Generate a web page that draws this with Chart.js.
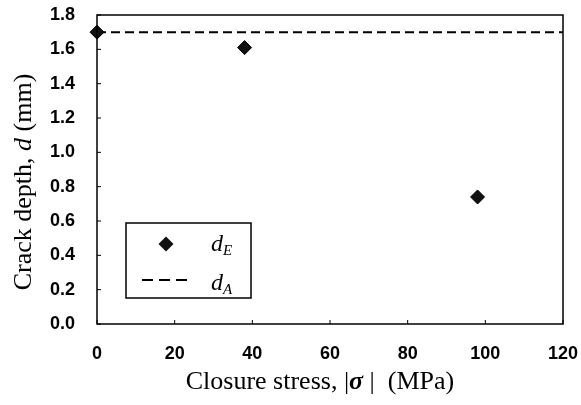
<!DOCTYPE html>
<html><head><meta charset="utf-8">
<script src="https://cdn.jsdelivr.net/npm/chart.js@4"></script>
<style>html,body{margin:0;padding:0;background:#fff}#w{width:581px;height:405px}</style>
</head><body><div id="w"><canvas id="c"></canvas></div>
<script>
const stressE = [0, 38, 98];
const depthE = [1.70, 1.61, 0.74];
const stressA = [0, 120];
const depthA = [1.70, 1.70];
const xTicks = [0, 20, 40, 60, 80, 100, 120];
const yTicks = [0.0, 0.2, 0.4, 0.6, 0.8, 1.0, 1.2, 1.4, 1.6, 1.8];

const tickFont = {family: 'Liberation Sans, Arial', size: 18, weight: 'bold'};
const serif = 'Liberation Serif, Times New Roman, serif';

function drawMixed(ctx, parts, x, y) {
  let total = 0;
  parts.forEach(p => { ctx.font = p.f; p.w = ctx.measureText(p.t).width; total += p.w; });
  let cx = x - total / 2;
  parts.forEach(p => { ctx.font = p.f; ctx.fillText(p.t, cx, y + (p.dy || 0)); cx += p.w; });
}

const decor = {
  id: 'decor',
  afterDatasetsDraw(chart) {
    const ctx = chart.ctx, a = chart.chartArea;
    const xs = chart.scales.x, ys = chart.scales.y;
    ctx.save();
    ctx.strokeStyle = '#000';
    ctx.lineWidth = 1.5;
    ctx.strokeRect(a.left, a.top, a.right - a.left, a.bottom - a.top);
    ctx.lineWidth = 1;
    xTicks.forEach(v => { const px = xs.getPixelForValue(v); ctx.beginPath(); ctx.moveTo(px, a.bottom); ctx.lineTo(px, a.bottom - 4); ctx.stroke(); });
    yTicks.forEach(v => { const py = ys.getPixelForValue(v); ctx.beginPath(); ctx.moveTo(a.left, py); ctx.lineTo(a.left + 4, py); ctx.stroke(); });

    // legend box
    const lx = a.left + 29, ly = a.top + 208, lw = 125, lh = 75;
    ctx.fillStyle = '#fff';
    ctx.fillRect(lx, ly, lw, lh);
    ctx.lineWidth = 1.5;
    ctx.strokeRect(lx, ly, lw, lh);
    ctx.fillStyle = '#111';
    const dx = lx + 40, dy = ly + 21, r = 7.5;
    ctx.beginPath(); ctx.moveTo(dx, dy - r); ctx.lineTo(dx + r, dy); ctx.lineTo(dx, dy + r); ctx.lineTo(dx - r, dy); ctx.closePath(); ctx.fill();
    ctx.strokeStyle = '#000'; ctx.lineWidth = 2.2; ctx.setLineDash([11, 6]);
    ctx.beginPath(); ctx.moveTo(lx + 16, ly + 57); ctx.lineTo(lx + 66, ly + 57); ctx.stroke();
    ctx.setLineDash([]);
    ctx.fillStyle = '#000';
    ctx.textBaseline = 'alphabetic';
    ctx.textAlign = 'left';
    ctx.font = 'italic 24px ' + serif; ctx.fillText('d', lx + 85, ly + 28);
    ctx.font = 'italic 15px ' + serif; ctx.fillText('E', lx + 97, ly + 32);
    ctx.font = 'italic 24px ' + serif; ctx.fillText('d', lx + 85, ly + 67);
    ctx.font = 'italic 15px ' + serif; ctx.fillText('A', lx + 97, ly + 71);

    // axis titles
    drawMixed(ctx, [
      {t: 'Closure stress, |', f: '26px ' + serif},
      {t: 'σ', f: 'italic bold 26px ' + serif},
      {t: ' |  (MPa)', f: '26px ' + serif}
    ], 320, 389);
    ctx.translate(31, 182);
    ctx.rotate(-Math.PI / 2);
    drawMixed(ctx, [
      {t: 'Crack depth, ', f: '26px ' + serif},
      {t: 'd', f: 'italic 26px ' + serif},
      {t: ' (mm)', f: '26px ' + serif}
    ], 0, 0);
    ctx.restore();
  }
};

new Chart(document.getElementById('c'), {
  type: 'scatter',
  data: {
    datasets: [
      {
        label: 'dE',
        data: stressE.map((x, i) => ({x, y: depthE[i]})),
        pointStyle: 'rectRot', pointRadius: 7, pointHoverRadius: 7,
        backgroundColor: '#111', borderColor: '#000', borderWidth: 1,
        clip: false
      },
      {
        label: 'dA',
        type: 'line',
        data: stressA.map((x, i) => ({x, y: depthA[i]})),
        borderColor: '#000', borderWidth: 2, borderDash: [9, 5],
        pointRadius: 0, fill: false, showLine: true
      }
    ]
  },
  options: {
    responsive: true, maintainAspectRatio: false, animation: false,
    layout: {padding: {top: 15, right: 18, left: 0, bottom: 0}},
    plugins: {legend: {display: false}, tooltip: {enabled: false}},
    scales: {
      x: {
        type: 'linear', min: 0, max: 120,
        afterBuildTicks: s => { s.ticks = xTicks.map(v => ({value: v})); },
        afterFit: s => { s.height = 81; s.paddingLeft = 0; s.paddingRight = 0; },
        grid: {display: false, drawTicks: false},
        border: {display: false},
        ticks: {font: tickFont, color: '#000', padding: 19}
      },
      y: {
        type: 'linear', min: 0, max: 1.8,
        afterBuildTicks: s => { s.ticks = yTicks.map(v => ({value: v})); },
        afterFit: s => { s.width = 97; s.paddingTop = 0; s.paddingBottom = 0; },
        grid: {display: false, drawTicks: false},
        border: {display: false},
        ticks: {font: tickFont, color: '#000', padding: 22, callback: v => Number(v).toFixed(1)}
      }
    }
  },
  plugins: [decor]
});
</script></body></html>
